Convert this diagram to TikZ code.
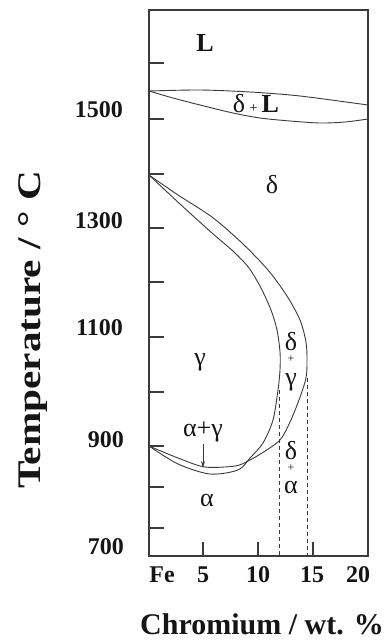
\documentclass[tikz,border=0pt]{standalone}
\usepackage{fontspec}
\setmainfont{Liberation Serif}
\usetikzlibrary{arrows.meta}
\definecolor{ink}{HTML}{3A3A3A}
\definecolor{txt}{HTML}{151515}

\begin{document}
\begin{tikzpicture}[x=1pt, y=-1pt,
  frame/.style={draw=ink, line width=1.4pt},
  axtick/.style={draw=ink, line width=1.3pt},
  phase/.style={draw=ink, line width=0.9pt},
  bound/.style={draw=ink, line width=1pt, dash pattern=on 4pt off 3pt},
  num/.style={font=\fontsize{24}{24}\selectfont\bfseries, text=txt, inner sep=0pt},
  reg/.style={font=\fontsize{26}{26}\selectfont, text=txt, inner sep=0pt},
  plus/.style={font=\fontsize{12}{12}\selectfont, text=txt, inner sep=0pt}
]
  \useasboundingbox (0,0) rectangle (385,641);

  % Axes
  \draw[frame] (149,10) rectangle (368,556);
  \foreach \ty in {63,119,174,228,282,337,392,446,487,528}
    \draw[axtick] (149,\ty) -- (164,\ty);
  \foreach \tx in {203,258,313}
    \draw[axtick] (\tx,556) -- (\tx,542);

  \node[num, anchor=east] (t1500) at (123,110) {1500};
  \node[num, anchor=east] (t1300) at (123,221) {1300};
  \node[num, anchor=east] (t1100) at (123,328) {1100};
  \node[num, anchor=east] (t900) at (124,440) {900};
  \node[num, anchor=east] (t700) at (124,547) {700};

  \node[num] (cFe) at (162,575) {Fe};
  \node[num] (c5) at (203,575) {5};
  \node[num] (c10) at (258,575) {10};
  \node[num] (c15) at (312,575) {15};
  \node[num] (c20) at (358,575) {20};

  \node[num, font=\fontsize{30}{30}\selectfont\bfseries, anchor=base] (xlab) at (262,634) {Chromium / wt. \%};
  \node[num, font=\fontsize{33}{33}\selectfont\bfseries, rotate=90] (ylab) at (33,330) {\scalebox{1.25}[1]{Temperature / ° C}};

  % Liquidus and solidus
  \draw[phase] plot[smooth] coordinates {(149,91) (200,90) (250,92) (300,96) (368,105)};
  \draw[phase] plot[smooth] coordinates {(149,91) (173,98) (200,105) (233,113) (260,118) (290,121) (320,123) (345,122) (368,119)};

  % Gamma loop
  \draw[phase] plot[smooth] coordinates {(149,175) (180,204) (212,233) (234,252) (249,268) (261,288) (271,310) (277,330) (280,352) (280,370) (278,390) (273,420) (263,443) (250,458) (238,470) (210,474) (178,464) (149,446)};
  \draw[phase] plot[smooth] coordinates {(149,175) (178,195) (212,217) (242,243) (268,270) (287,296) (300,320) (306,342) (307,360) (306,378) (299,400) (290,422) (280,440) (262,453) (248,461) (235,466) (205,467) (178,458) (149,446)};

  % Composition limits
  \draw[bound] (279,390) -- (279,556);
  \draw[bound] (307,378) -- (307,556);

  % Phase fields
  \node[reg, font=\fontsize{26}{26}\selectfont\bfseries] (liq) at (205,43) {L};
  \node[reg] (dl) at (256,104) {δ\,{\fontsize{14}{14}\selectfont+}\,\textbf{L}};
  \node[reg] (dlt) at (272,185) {δ};
  \node[reg] (gam) at (200,362) {γ};
  \node[reg] (dgd) at (291,342) {δ};
  \node[plus] (dgp) at (291,359) {+};
  \node[reg] (dgg) at (291,382) {γ};
  \node[reg] (dad) at (291,451) {δ};
  \node[plus] (dap) at (291,468) {+};
  \node[reg] (daa) at (291,487) {α};
  \node[reg] (alp) at (207,500) {α};
  \node[reg] (ag) at (203,432) {α+γ};

  \coordinate (agtip) at (203,468);
  \draw[-{Stealth[length=7pt, width=4pt]}, ink, line width=1pt, shorten <=2pt] (ag) -- (agtip);
\end{tikzpicture}
\end{document}
